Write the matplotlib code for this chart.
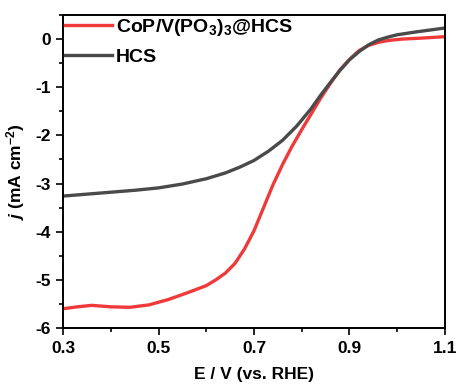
import numpy as np
import matplotlib
matplotlib.use("Agg")
import matplotlib.pyplot as plt
from matplotlib.ticker import MultipleLocator

plt.rcParams['font.family'] = ['Liberation Sans', 'DejaVu Sans']
plt.rcParams['font.weight'] = 'bold'
plt.rcParams['mathtext.fontset'] = 'custom'
plt.rcParams['mathtext.rm'] = 'Liberation Sans:bold'
plt.rcParams['mathtext.it'] = 'Liberation Sans:bold:italic'
plt.rcParams['mathtext.bf'] = 'Liberation Sans:bold'

# LSV curves, potential (V vs. RHE) and current density (mA cm-2)
E_cop = [0.30, 0.33, 0.36, 0.40, 0.44, 0.48, 0.52, 0.56, 0.60, 0.62, 0.64,
         0.66, 0.68, 0.70, 0.72, 0.74, 0.76, 0.78, 0.80, 0.82, 0.84, 0.86,
         0.88, 0.90, 0.92, 0.94, 0.96, 0.98, 1.01, 1.05, 1.10]
j_cop = [-5.60, -5.56, -5.53, -5.56, -5.57, -5.52, -5.41, -5.27, -5.12, -5.00, -4.86,
         -4.66, -4.36, -3.98, -3.50, -3.02, -2.60, -2.22, -1.88, -1.55, -1.22, -0.92,
         -0.64, -0.42, -0.24, -0.13, -0.07, -0.03, 0.00, 0.02, 0.05]

E_hcs = [0.30, 0.35, 0.40, 0.45, 0.50, 0.55, 0.60, 0.64, 0.67, 0.70, 0.73, 0.76,
         0.79, 0.82, 0.84, 0.86, 0.88, 0.90, 0.92, 0.94, 0.96, 0.98, 1.00, 1.04,
         1.07, 1.10]
j_hcs = [-3.26, -3.22, -3.18, -3.14, -3.09, -3.01, -2.90, -2.78, -2.66, -2.52, -2.33, -2.10,
         -1.80, -1.44, -1.16, -0.90, -0.65, -0.43, -0.26, -0.12, -0.02, 0.04, 0.09, 0.15,
         0.19, 0.23]

x_ticks = [0.3, 0.5, 0.7, 0.9, 1.1]
y_ticks = [0, -1, -2, -3, -4, -5, -6]

fig = plt.figure(figsize=(4.58, 3.91), dpi=100)
ax = fig.add_axes([0.1376, 0.1611, 0.834, 0.8005])

ax.plot(E_cop, j_cop, color='#f03a3a', lw=2.4, label=r'CoP/V(PO$_3$)$_3$@HCS')
ax.plot(E_hcs, j_hcs, color='#4a4a4a', lw=2.4, label='HCS')

ax.set_xlim(0.3, 1.1)
ax.set_ylim(-6, 0.5)
ax.set_xticks(x_ticks)
ax.set_yticks(y_ticks)
ax.set_xticklabels([str(v) for v in x_ticks])
ax.set_yticklabels([str(v) for v in y_ticks])
ax.xaxis.set_minor_locator(MultipleLocator(0.1))
ax.yaxis.set_minor_locator(MultipleLocator(0.5))
ax.tick_params(which='major', direction='out', length=5, width=1.2, labelsize=12.5, pad=4)
ax.tick_params(which='minor', direction='out', length=3, width=1.2)
for s in ax.spines.values():
    s.set_linewidth(1.4)

ax.set_xlabel('E / V (vs. RHE)', fontsize=12.5, fontweight='bold', labelpad=8)
ax.set_ylabel(r'$\mathit{j}$ (mA cm$^{-2}$)', fontsize=12.5, fontweight='bold', labelpad=6)

ax.legend(loc='upper left', bbox_to_anchor=(0.0, 1.0), frameon=False,
          prop={'size': 14, 'weight': 'bold'}, handlelength=2.4,
          handletextpad=0.2, borderaxespad=0.1, borderpad=0.0, labelspacing=0.55)

fig.savefig('out.png', dpi=100)
